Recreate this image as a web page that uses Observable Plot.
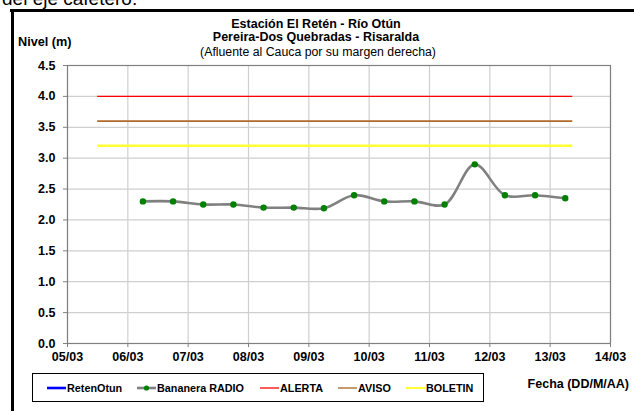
<!DOCTYPE html>
<html>
<head>
<meta charset="utf-8">
<script src="https://cdn.jsdelivr.net/npm/d3@7"></script>
<script src="https://cdn.jsdelivr.net/npm/@observablehq/plot@0.6"></script>
<style>
  html, body { margin: 0; padding: 0; background: #fff; }
  #chart { width: 634px; height: 411px; overflow: hidden; }
  svg { font-family: "Liberation Sans", Arial, sans-serif; }
</style>
</head>
<body>
<div id="chart"></div>
<script>
// ---- data ----
const fechas = [
  "2011-03-06T06:00", "2011-03-06T18:00",
  "2011-03-07T06:00", "2011-03-07T18:00",
  "2011-03-08T06:00", "2011-03-08T18:00",
  "2011-03-09T06:00", "2011-03-09T18:00",
  "2011-03-10T06:00", "2011-03-10T18:00",
  "2011-03-11T06:00", "2011-03-11T18:00",
  "2011-03-12T06:00", "2011-03-12T18:00",
  "2011-03-13T06:00"
];
const nivelBananera = [2.3, 2.3, 2.25, 2.25, 2.2, 2.2, 2.19, 2.4, 2.3, 2.3, 2.25, 2.9, 2.4, 2.4, 2.35];

const umbralNombres = ["ALERTA", "AVISO", "BOLETIN"];
const umbralValores = [4.0, 3.6, 3.2];
const umbralInicio = "2011-03-05T12:00";
const umbralFin = "2011-03-13T09:00";

const xTickFechas = ["2011-03-05", "2011-03-06", "2011-03-07", "2011-03-08", "2011-03-09",
                     "2011-03-10", "2011-03-11", "2011-03-12", "2011-03-13", "2011-03-14"];
const yTicks = [0, 0.5, 1.0, 1.5, 2.0, 2.5, 3.0, 3.5, 4.0, 4.5];

const leyendaNombres = ["RetenOtun", "Bananera RADIO", "ALERTA", "AVISO", "BOLETIN"];

const titulo1 = "Estación El Retén - Río Otún";
const titulo2 = "Pereira-Dos Quebradas - Risaralda";
const titulo3 = "(Afluente al Cauca por su margen derecha)";
const yLabel = "Nivel (m)";
const xLabel = "Fecha (DD/M/AA)";
const textoArriba = "del eje cafetero.";

// ---- build ----
const parse = s => new Date(s + (s.length === 10 ? "T00:00Z" : "Z"));
const serie = fechas.map((f, i) => ({ fecha: parse(f), nivel: nivelBananera[i] }));
const umbralColores = { ALERTA: "#ff0000", AVISO: "#b0692a", BOLETIN: "#ffff33" };
const umbralAnchos = { ALERTA: 1.3, AVISO: 1.6, BOLETIN: 2.5 };
const umbrales = umbralNombres.map((n, i) => ({ nombre: n, y: umbralValores[i], x1: parse(umbralInicio), x2: parse(umbralFin) }));

const plot = Plot.plot({
  width: 634,
  height: 411,
  marginTop: 65,
  marginLeft: 67,
  marginRight: 24,
  marginBottom: 68,
  style: { fontFamily: "'Liberation Sans', Arial, sans-serif", fontSize: "12.5px", fontWeight: "bold", background: "#fff", overflow: "visible" },
  x: { type: "utc", domain: [parse(xTickFechas[0]), parse(xTickFechas[xTickFechas.length - 1])] },
  y: { domain: [0, 4.5] },
  marks: [
    Plot.gridX(xTickFechas.map(parse), { stroke: "#cfcfcf", strokeOpacity: 1, strokeWidth: 1.2 }),
    Plot.gridY(yTicks, { stroke: "#cfcfcf", strokeOpacity: 1, strokeWidth: 1.2 }),
    Plot.frame({ stroke: "#808080", strokeWidth: 1.2 }),
    Plot.axisX(xTickFechas.map(parse), { tickFormat: d3.utcFormat("%d/%m"), tickSize: 4, tickPadding: 5, stroke: "#808080", fill: "#000", label: null, fontWeight: "bold" }),
    Plot.axisY(yTicks, { tickFormat: d => d.toFixed(1), tickSize: 4, tickPadding: 8, stroke: "#808080", fill: "#000", label: null, fontWeight: "bold" }),
    ...umbrales.map(u => Plot.ruleY([u], { y: "y", x1: "x1", x2: "x2", stroke: umbralColores[u.nombre], strokeWidth: umbralAnchos[u.nombre] })),
    Plot.line(serie, { x: "fecha", y: "nivel", stroke: "#808080", strokeWidth: 2.6, curve: "catmull-rom" }),
    Plot.dot(serie, { x: "fecha", y: "nivel", r: 3.2, fill: "#008000", stroke: null })
  ]
});

document.getElementById("chart").appendChild(plot);

const svg = d3.select(plot);
const font = "'Liberation Sans', Arial, sans-serif";
const addText = (x, y, txt, size, weight, anchor) =>
  svg.append("text").attr("x", x).attr("y", y).attr("text-anchor", anchor || "start")
    .attr("font-size", size).attr("font-weight", weight).attr("font-family", font)
    .attr("fill", "#000").text(txt);

// outer frame (left + top thick black borders)
svg.append("line").attr("x1", 10).attr("x2", 634).attr("y1", 10.5).attr("y2", 10.5)
  .attr("stroke", "#000").attr("stroke-width", 3);
svg.append("line").attr("x1", 12.5).attr("x2", 12.5).attr("y1", 9).attr("y2", 411)
  .attr("stroke", "#000").attr("stroke-width", 3);

// text partly above the picture (as in the reference)
addText(2, 5, textoArriba, 19, "normal");

// titles
const tcx = 316;
addText(tcx, 28, titulo1, 12.5, "bold", "middle");
addText(tcx, 41, titulo2, 12.5, "bold", "middle");
addText(tcx + 2, 55.5, titulo3, 12.3, "normal", "middle");

addText(18, 45.5, yLabel, 12.7, "bold");
addText(629, 388, xLabel, 12.5, "bold", "end");

// legend
const leg = svg.append("g");
leg.append("rect").attr("x", 32.5).attr("y", 373.5).attr("width", 451).attr("height", 28)
  .attr("fill", "#fff").attr("stroke", "#000").attr("stroke-width", 1);
const legItems = [
  { nombre: leyendaNombres[0], color: "#0000ff", x: 47, w: 2.6, dot: false },
  { nombre: leyendaNombres[1], color: "#808080", x: 137, w: 2.6, dot: true },
  { nombre: leyendaNombres[2], color: "#ff5a5a", x: 260, w: 2, dot: false },
  { nombre: leyendaNombres[3], color: "#c49a72", x: 338, w: 2, dot: false },
  { nombre: leyendaNombres[4], color: "#ffff33", x: 406, w: 2, dot: false }
];
const ly = 388;
legItems.forEach(it => {
  leg.append("line").attr("x1", it.x).attr("x2", it.x + 19).attr("y1", ly).attr("y2", ly)
    .attr("stroke", it.color).attr("stroke-width", it.w);
  if (it.dot) leg.append("circle").attr("cx", it.x + 9.5).attr("cy", ly).attr("r", 2.6).attr("fill", "#008000");
  leg.append("text").attr("x", it.x + 20).attr("y", ly + 4).attr("text-anchor", "start").attr("font-size", 10.8)
    .attr("font-weight", "bold").attr("font-family", font).attr("fill", "#000").text(it.nombre);
});
</script>
</body>
</html>
